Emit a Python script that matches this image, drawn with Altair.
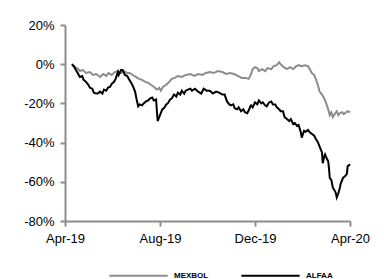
import altair as alt
import pandas as pd

START = "2019-04-01"

# days since 2019-04-01 and cumulative return (%)
mex_days = [9, 13, 17, 19, 23, 27, 32, 36, 40, 45, 49, 53, 56, 60, 64, 68, 72, 76, 80, 83,
            87, 91, 95, 99, 103, 107, 110, 114, 118, 121, 123, 126, 130, 134, 137, 141, 145,
            150, 155, 161, 166, 171, 176, 181, 186, 191, 196, 202, 207, 212, 217, 222, 227,
            232, 236, 239, 241, 244, 247, 249, 253, 257, 260, 265, 268, 272, 275, 277, 281,
            285, 289, 293, 297, 300, 304, 308, 312, 315, 317, 320, 322, 325, 327, 330, 333,
            335, 338, 340, 342, 344, 347, 349, 351, 353, 356, 358, 361, 363, 366]
mex_vals = [0, -1.5, -2.5, -3.5, -3, -4.5, -4, -5.5, -5, -6.5, -5, -6, -4.5, -5.5, -4, -3.5,
            -4.5, -3.5, -4.5, -4.5, -5.5, -6.5, -7.5, -8, -9, -9.5, -10.5, -11.5, -13, -12,
            -13.5, -11.5, -10.5, -9, -7.5, -7, -6, -6.5, -5.5, -5, -6, -5, -5.5, -4.5, -4,
            -4.5, -3.5, -4, -5, -4.5, -5, -6, -7, -7, -7.5, -5, -2.5, -1.5, -2, -3.5, -2.5,
            -3.5, -2, -2.5, -1, -0.5, 1, 0, -1.5, -2.5, -1.5, -2.5, -1, -0.5, -1, -0.5, -1,
            -3, -4.5, -5.5, -7.5, -11, -14, -15.5, -17.5, -19.5, -23, -26, -24.5, -27, -25,
            -24, -26, -25, -24.5, -25.5, -24.5, -24, -24.5]

alf_days = [9, 12, 14, 17, 19, 22, 24, 27, 30, 32, 35, 37, 40, 42, 45, 48, 50, 53, 55, 58,
            60, 63, 65, 68, 69, 72, 74, 77, 80, 82, 85, 87, 90, 92, 94, 96, 99, 101, 104,
            107, 109, 112, 114, 117, 118, 119, 122, 125, 127, 130, 132, 135, 137, 140, 143,
            145, 148, 150, 153, 155, 158, 161, 163, 167, 171, 175, 178, 182, 186, 190, 194,
            198, 202, 205, 208, 211, 213, 216, 218, 221, 223, 226, 229, 231, 234, 236, 238,
            239, 241, 244, 247, 249, 252, 254, 257, 259, 262, 265, 267, 270, 272, 275, 277,
            280, 282, 285, 288, 290, 293, 295, 298, 300, 303, 304, 307, 309, 312, 315, 317,
            320, 322, 325, 327, 330, 331, 333, 334, 336, 338, 339, 340, 342, 344, 347, 348,
            349, 351, 353, 354, 357, 360, 362, 363, 365, 366]
alf_vals = [0, -1.5, -3, -5, -6.5, -6, -8, -9, -10.5, -12, -12.5, -14.5, -15, -15, -14, -15,
            -13, -13.5, -12, -11.5, -10, -9, -7.5, -4, -5.5, -3, -3, -5.5, -6, -7.5, -9.5,
            -11, -14, -18, -21.5, -20.5, -21, -20, -19, -18.5, -17.5, -17, -18.5, -18, -24,
            -29, -26, -23, -22.5, -20.5, -20, -18, -17.5, -15.5, -16.5, -14.5, -15.5, -13.5,
            -15, -13.5, -13, -12.5, -13.5, -12.5, -14, -15, -12.5, -13.5, -13.5, -15, -14,
            -14.5, -15.5, -15.5, -19, -20.5, -21, -20.5, -22.5, -23, -22, -24, -23, -24.5,
            -25, -23.5, -21.5, -21, -22, -19.5, -20.5, -18.5, -20, -19.5, -21, -21.5, -19.5,
            -19, -20.5, -20.5, -22, -23, -24, -24, -27, -28, -29, -28, -30.5, -30, -31.5, -31,
            -35, -37.5, -34, -34.5, -33.5, -35, -35.5, -36.5, -38, -40, -42, -45, -50.5, -47,
            -46, -48, -49.5, -53, -58, -59, -63, -65, -66, -68, -66, -63, -61, -58, -57, -56,
            -52, -51.5, -51]

series = ["MEXBOL", "ALFAA"]
colors = ["#8c8c8c", "#000000"]
y_ticks = [-80, -60, -40, -20, 0, 20]

base = pd.Timestamp(START)
df = pd.concat([
    pd.DataFrame({"date": base + pd.to_timedelta(mex_days, unit="D"), "value": mex_vals, "series": "MEXBOL"}),
    pd.DataFrame({"date": base + pd.to_timedelta(alf_days, unit="D"), "value": alf_vals, "series": "ALFAA"}),
])

FONT = "Liberation Sans"
AX = "#8c8c8c"

chart = alt.Chart(df).mark_line(strokeWidth=2, strokeJoin="miter").encode(
    x=alt.X("date:T",
            scale=alt.Scale(domain=[alt.DateTime(year=2019, month=4, date=1),
                                    alt.DateTime(year=2020, month=4, date=1)]),
            axis=alt.Axis(values=[alt.DateTime(year=2019, month=4, date=1),
                                  alt.DateTime(year=2019, month=8, date=1),
                                  alt.DateTime(year=2019, month=12, date=1),
                                  alt.DateTime(year=2020, month=4, date=1)],
                          format="%b-%y", title=None, grid=False, labelFlush=False,
                          labelOverlap=False, labelPadding=6)),
    y=alt.Y("value:Q",
            scale=alt.Scale(domain=[-80, 20], nice=False, zero=False),
            axis=alt.Axis(values=y_ticks, labelExpr="datum.value + '%'", title=None,
                          grid=False, labelPadding=6)),
    color=alt.Color("series:N",
                    scale=alt.Scale(domain=series, range=colors),
                    sort=series,
                    legend=alt.Legend(title=None, orient="none", direction="horizontal",
                                      legendX=43, legendY=220, symbolType="stroke",
                                      symbolSize=3400, symbolStrokeWidth=2,
                                      labelFont=FONT, labelFontSize=8,
                                      labelFontWeight="bold", labelColor="#000",
                                      labelOffset=5, columnPadding=28)),
).properties(
    width=285, height=196,
    autosize=alt.AutoSizeParams(type="none"),
    padding={"left": 57, "top": 17, "right": 26, "bottom": 62},
).configure_axis(
    labelFont=FONT, labelFontSize=13, labelColor="#000",
    domainColor=AX, domainWidth=2, tickColor=AX, tickWidth=2, tickSize=5,
).configure_view(stroke=None)

chart.save("out.html", embed_options={"renderer": "svg", "actions": False})
